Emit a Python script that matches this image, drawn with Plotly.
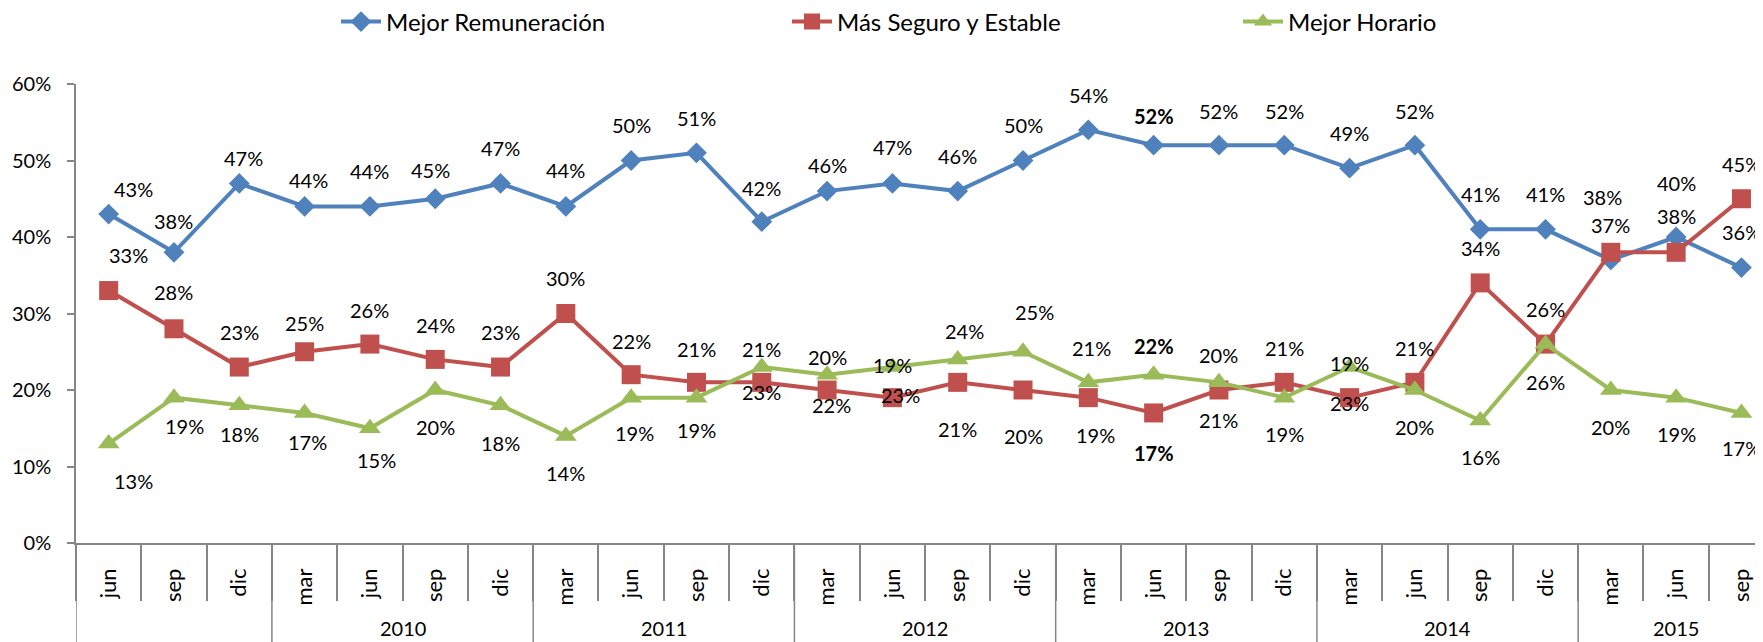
import plotly.graph_objects as go

# ---------------- data ----------------
period_year = ["", "", "",
               "2010", "2010", "2010", "2010",
               "2011", "2011", "2011", "2011",
               "2012", "2012", "2012", "2012",
               "2013", "2013", "2013", "2013",
               "2014", "2014", "2014", "2014",
               "2015", "2015", "2015"]
period_month = ["jun", "sep", "dic",
                "mar", "jun", "sep", "dic",
                "mar", "jun", "sep", "dic",
                "mar", "jun", "sep", "dic",
                "mar", "jun", "sep", "dic",
                "mar", "jun", "sep", "dic",
                "mar", "jun", "sep"]

remuneracion = [43, 38, 47, 44, 44, 45, 47, 44, 50, 51, 42, 46, 47, 46, 50,
                54, 52, 52, 52, 49, 52, 41, 41, 37, 40, 36]
seguro = [33, 28, 23, 25, 26, 24, 23, 30, 22, 21, 21, 20, 19, 21, 20,
          19, 17, 20, 21, 19, 21, 34, 26, 38, 38, 45]
horario = [13, 19, 18, 17, 15, 20, 18, 14, 19, 19, 23, 22, 23, 24, 25,
           21, 22, 21, 19, 23, 20, 16, 26, 20, 19, 17]

series_names = ["Mejor Remuneración", "Más Seguro y Estable", "Mejor Horario"]
bold_index = 16  # jun 2013 labels are bold

# ---------------- label placement (offsets: axis % units / px) ----------------
blue_dy = [3.3, 4.1, 3.3, 3.4, 4.6, 3.8, 4.6, 4.7, 4.6, 4.5, 4.4, 3.4, 4.7, 4.6, 4.6,
           4.6, 3.8, 4.5, 4.5, 4.6, 4.5, 4.6, 4.6, 4.6, 7.0, 4.6]
blue_dx = [25, 0, 4, 4, 0, -5, 0, 0, 0, 0, 0, 0, 0, 0, 0,
           0, 0, 0, 0, 0, 0, 0, 0, 0, 0, 0]
red_dy = [4.6, 4.8, 4.6, 3.8, 4.5, 4.5, 4.6, 4.6, 4.4, 4.3, 4.3, 4.3, 4.3, -6.1, -6.0,
          -4.9, -5.2, 4.6, 4.5, 4.5, 4.5, 4.5, 4.6, 7.2, 4.8, 4.5]
red_dx = [20, 0, 0, 0, 0, 0, 0, 0, 0, 0, 0, 0, 0, 0, 0,
          7, 0, 0, 0, 0, 0, 0, 0, -8, 0, 0]
green_dy = [-4.9, -3.7, -3.8, -3.8, -4.1, -4.8, -4.9, -4.8, -4.6, -4.2, -3.3, -4.0, -3.6, 3.7, 5.2,
            4.5, 3.7, -4.9, -4.8, -4.7, -4.8, -4.8, -4.9, -4.8, -4.7, -4.6]
green_dx = [25, 11, 0, 3, 7, 0, 0, 0, 3, 0, 0, 4, 8, 7, 11,
            3, 0, 0, 0, 0, 0, 0, 0, 0, 0, 0]

FONT = "Lato"
colors = ["#4F81BD", "#C0504D", "#9BBB59"]
symbols = ["diamond", "square", "triangle-up"]
msizes = [16, 19, 19]
axis_col = "#868686"

# page body has an 8px default margin -> figure is offset by 8px
OFF = 8
W, H = 1763 - OFF, 642 - OFF
ML, MT, MB = 76 - OFF, 84 - OFF, 99
PLOT_H = H - MT - MB

N = len(period_month)
xs = list(range(N))

fig = go.Figure()
for vals, name, col, sym, ms in zip([remuneracion, seguro, horario], series_names,
                                    colors, symbols, msizes):
    fig.add_trace(go.Scatter(
        x=xs, y=vals, name=name,
        mode="lines+markers",
        line=dict(color=col, width=4),
        marker=dict(symbol=sym, size=ms, color=col),
        cliponaxis=False,
    ))

annotations = []
for vals, dys, dxs in [(remuneracion, blue_dy, blue_dx), (seguro, red_dy, red_dx),
                       (horario, green_dy, green_dx)]:
    for i, v in enumerate(vals):
        txt = f"{v}%"
        if i == bold_index:
            txt = f"<b>{txt}</b>"
        annotations.append(dict(
            x=i, y=v + dys[i], xref="x", yref="y", text=txt, showarrow=False,
            xshift=dxs[i], font=dict(family=FONT, size=20, color="#000000"),
        ))

# year group labels and dividers
BOTTOM = -MB / PLOT_H
groups = []
for i, yv in enumerate(period_year):
    if not groups or groups[-1][0] != yv:
        groups.append([yv, i, i])
    else:
        groups[-1][2] = i
shapes = []
for yv, i0, i1 in groups:
    if yv:
        annotations.append(dict(x=(i0 + i1) / 2, y=-85 / PLOT_H, xref="x", yref="paper",
                                text=yv, showarrow=False, yanchor="middle",
                                font=dict(family=FONT, size=20, color="#000000")))
    shapes.append(dict(type="line", xref="x", yref="paper", x0=i0 - 0.5, x1=i0 - 0.5,
                       y0=0, y1=BOTTOM, line=dict(color=axis_col, width=1.5)))

XMAX = 25.33
fig.update_layout(
    width=W, height=H,
    margin=dict(l=ML, r=0, t=MT, b=MB),
    paper_bgcolor="white", plot_bgcolor="white",
    font=dict(family=FONT, size=20, color="#000000"),
    showlegend=True,
    legend=dict(orientation="h", xref="container", x=(336 - OFF) / W, xanchor="left",
                yref="container", y=1 - (22 - OFF) / H, yanchor="middle",
                font=dict(family=FONT, size=24), entrywidth=396, itemwidth=40,
                bgcolor="rgba(0,0,0,0)"),
    xaxis=dict(range=[-0.5, XMAX], tickmode="array", tickvals=xs, ticktext=period_month,
               tickangle=-90, ticks="", ticklabelstandoff=15,
               showline=True, linecolor=axis_col, linewidth=1.5,
               minor=dict(tickmode="array", tickvals=[i - 0.5 for i in range(N + 1)],
                          ticks="outside", ticklen=56, tickcolor=axis_col, tickwidth=1.5,
                          showgrid=False),
               showgrid=False, zeroline=False, tickfont=dict(family=FONT, size=22)),
    yaxis=dict(range=[0, 60], dtick=10, ticksuffix="%", showgrid=False,
               showline=True, linecolor=axis_col, linewidth=1.5,
               ticks="outside", ticklen=7, tickcolor=axis_col, tickwidth=1.5,
               ticklabelstandoff=12,
               zeroline=False, tickfont=dict(family=FONT, size=20)),
    annotations=annotations,
    shapes=shapes,
)

fig.write_html("out.html")
